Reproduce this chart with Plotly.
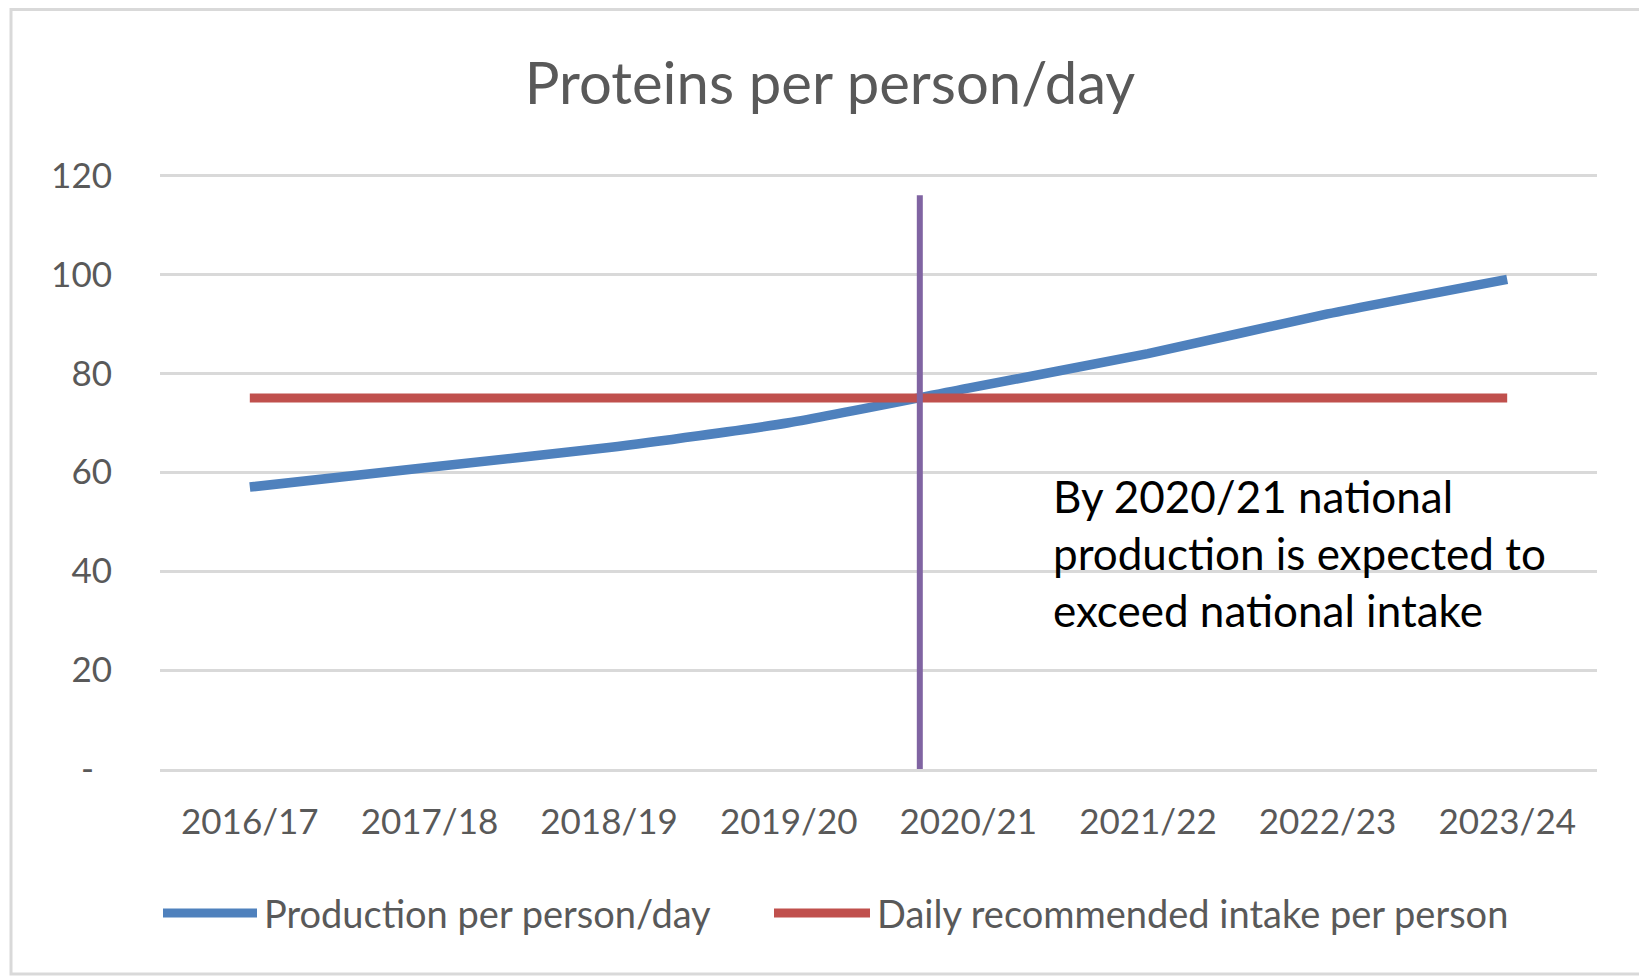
import plotly.graph_objects as go

# ---- data ----
years = ["2016/17", "2017/18", "2018/19", "2019/20", "2020/21", "2021/22", "2022/23", "2023/24"]
production = [57, 61, 65, 70, 77, 84, 92, 99]
recommended = [75, 75, 75, 75, 75, 75, 75, 75]
marker_x = [3.73, 3.73]        # position (category index) of the vertical marker
marker_y = [0, 116]
y_ticks = [0, 20, 40, 60, 80, 100, 120]
y_tick_text = ["-\u00a0\u00a0", "20", "40", "60", "80", "100", "120"]
series_names = ["Production per person/day", "Daily recommended intake per person"]

BLUE = "#4F81BD"
RED = "#C0504D"
PURPLE = "#8064A2"
GRAY_TXT = "#595959"
GRID = "#D9D9D9"
FONT = "Lato"

# figure geometry (page has an 8px body margin)
W, H = 1639, 968
L, R, T, B = 152, 50, 166, 207
PW, PH = W - L - R, H - T - B


def px(x):
    return (x - L) / PW


def py(y):
    return (H - B - y) / PH


idx = list(range(len(years)))

fig = go.Figure()
fig.add_trace(go.Scatter(
    x=idx, y=production, mode="lines", name=series_names[0], showlegend=False,
    line=dict(color=BLUE, width=9.5, shape="spline", smoothing=0.6),
))
fig.add_trace(go.Scatter(
    x=idx, y=recommended, mode="lines", name=series_names[1], showlegend=False,
    line=dict(color=RED, width=9),
))
fig.add_trace(go.Scatter(
    x=marker_x, y=marker_y, mode="lines", showlegend=False,
    line=dict(color=PURPLE, width=6), hoverinfo="skip",
))

legend_y = py(905)
legend_items = [(BLUE, 155, 249, 253.5), (RED, 766, 862, 867)]
shapes = [dict(type="rect", xref="paper", yref="paper",
               x0=px(3), x1=px(1635), y0=py(966), y1=py(1.5),
               line=dict(color=GRID, width=3), fillcolor="rgba(0,0,0,0)", layer="below")]
annotations = [dict(
    text="By 2020/21 national<br>production is expected to<br>exceed national intake",
    xref="paper", yref="paper", x=px(1043), y=py(545),
    xanchor="left", yanchor="middle", align="left", showarrow=False,
    font=dict(size=44, color="black", family=FONT),
)]
for (col, x0, x1, xt), name in zip(legend_items, series_names):
    shapes.append(dict(type="line", xref="paper", yref="paper", x0=px(x0), x1=px(x1),
                       y0=legend_y, y1=legend_y, line=dict(color=col, width=9)))
    annotations.append(dict(text=name, xref="paper", yref="paper", x=px(xt), y=legend_y,
                            xanchor="left", yanchor="middle", showarrow=False,
                            font=dict(size=38, color=GRAY_TXT, family=FONT)))

fig.update_layout(
    width=W, height=H,
    paper_bgcolor="white", plot_bgcolor="white",
    margin=dict(l=L, r=R, t=T, b=B),
    font=dict(family=FONT, color=GRAY_TXT),
    showlegend=False,
    title=dict(text="Proteins per person/day", x=822 / W, xref="container", xanchor="center",
               y=1 - 76 / H, yref="container", yanchor="middle",
               font=dict(size=58, color=GRAY_TXT, family=FONT)),
    xaxis=dict(
        range=[-0.5, 7.5], tickmode="array", tickvals=idx, ticktext=years,
        showgrid=False, zeroline=False, showline=True, linecolor=GRID, linewidth=2.5,
        ticks="", ticklabelstandoff=20, tickfont=dict(size=35, color=GRAY_TXT, family=FONT),
    ),
    yaxis=dict(
        range=[0, 120.3], tickmode="array", tickvals=y_ticks, ticktext=y_tick_text,
        showgrid=True, gridcolor=GRID, gridwidth=2.5, zeroline=False, showline=False,
        ticks="", ticklabelstandoff=47, tickfont=dict(size=35, color=GRAY_TXT, family=FONT),
    ),
    annotations=annotations,
    shapes=shapes,
)

fig.write_html("out.html")
